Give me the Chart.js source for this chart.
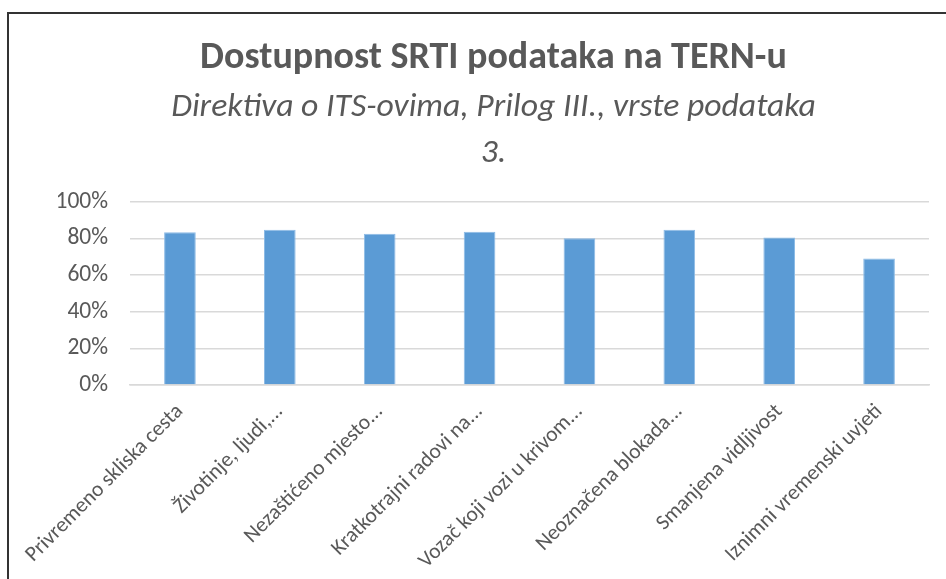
<!DOCTYPE html>
<html>
<head>
<meta charset="utf-8">
<script src="https://cdn.jsdelivr.net/npm/chart.js@4/dist/chart.umd.min.js"></script>
<style>
html,body{margin:0;padding:0;background:#fff;}
#wrap{position:absolute;left:0;top:0;width:946px;height:579px;}
#frame{position:absolute;left:7px;top:12px;width:960px;height:600px;border-left:2px solid #333;border-top:2px solid #333;box-sizing:border-box;}
canvas{position:absolute;left:0;top:0;}
</style>
</head>
<body>
<div id="wrap">
<div id="frame"></div>
<canvas id="c" width="946" height="579"></canvas>
</div>
<script>
const categories = [
  "Privremeno skliska cesta",
  "Životinje, ljudi,...",
  "Nezaštićeno mjesto...",
  "Kratkotrajni radovi na...",
  "Vozač koji vozi u krivom...",
  "Neoznačena blokada...",
  "Smanjena vidljivost",
  "Iznimni vremenski uvjeti"
];
const availability = [0.834, 0.848, 0.826, 0.837, 0.801, 0.848, 0.806, 0.691];
const yTicks = ["0%", "20%", "40%", "60%", "80%", "100%"];
const titleText = "Dostupnost SRTI podataka na TERN-u";
const subtitleLines = ["Direktiva o ITS-ovima, Prilog III., vrste podataka", "3."];

const FONT = 'Carlito, Calibri, "Liberation Sans Narrow", "Open Sans", sans-serif';

new Chart(document.getElementById('c'), {
  type: 'bar',
  data: {
    labels: categories,
    datasets: [{
      data: availability,
      backgroundColor: '#5B9BD5',
      borderColor: '#8DBBE6',
      borderWidth: 1,
      categoryPercentage: 1,
      barPercentage: 0.317
    }]
  },
  options: {
    responsive: false,
    animation: false,
    layout: { padding: { left: 58, right: 17, top: 36, bottom: 0 } },
    plugins: {
      legend: { display: false },
      tooltip: { enabled: false },
      title: {
        display: true,
        text: titleText,
        color: '#595959',
        font: { family: FONT, size: 38, weight: 'bold', lineHeight: 1.2 },
        padding: { top: 0, bottom: 3 }
      },
      subtitle: {
        display: true,
        text: subtitleLines,
        color: '#595959',
        font: { family: FONT, size: 33.7, style: 'italic', weight: 'normal', lineHeight: 1.37 },
        padding: { top: 0, bottom: 25 }
      }
    },
    scales: {
      y: {
        min: 0, max: 1,
        ticks: {
          stepSize: 0.2,
          color: '#595959',
          font: { family: FONT, size: 23.5 },
          padding: 22,
          callback: (v, i) => yTicks[i]
        },
        grid: { color: '#D9D9D9', lineWidth: 1.5, drawTicks: false },
        border: { display: false },
        afterFit: (s) => { s.width = 72; }
      },
      x: {
        ticks: {
          color: '#595959',
          font: { family: FONT, size: 21.5 },
          minRotation: 45, maxRotation: 45,
          autoSkip: false,
          padding: 14
        },
        grid: { display: false, drawTicks: false },
        border: { display: true, color: '#D9D9D9', width: 1.5 },
        afterFit: (s) => { s.height = 194; }
      }
    }
  }
});
</script>
</body>
</html>
